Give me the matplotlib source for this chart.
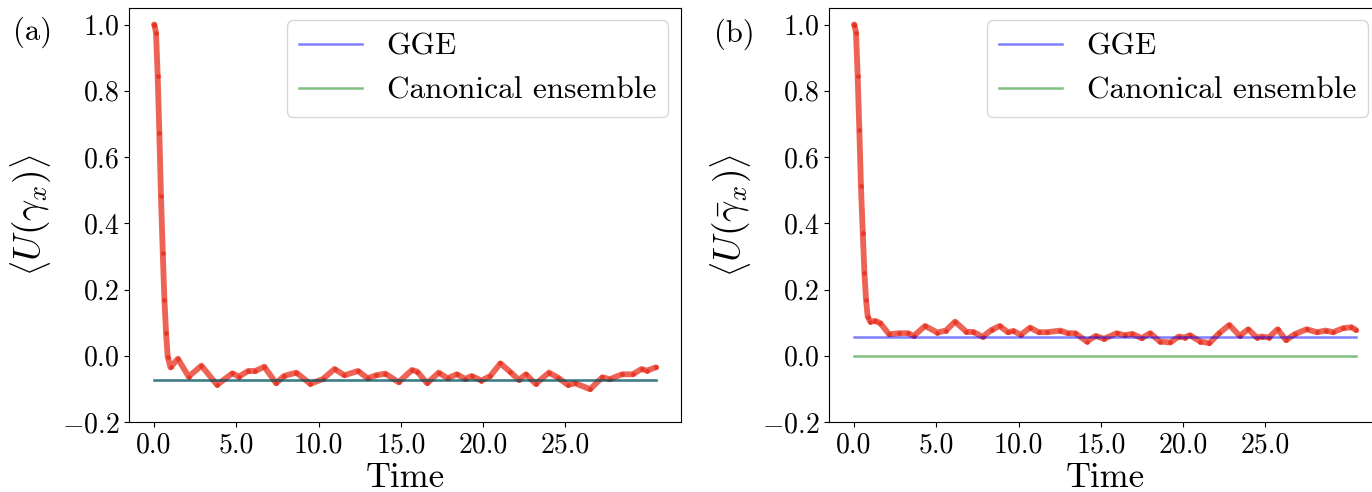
import matplotlib.pyplot as plt
import numpy as np

plt.rcParams['font.family'] = 'cmr10'
plt.rcParams['mathtext.fontset'] = 'cm'
plt.rcParams['axes.formatter.use_mathtext'] = True

# panel (a): <U(gamma_x)> vs time
t_a = [0.0, 0.02, 0.12, 0.22, 0.32, 0.42, 0.53, 0.63, 0.73, 0.83, 1.0, 1.45, 2.1, 2.88,
       3.83, 4.76, 5.15, 5.73, 6.16, 6.7, 7.42, 7.9, 8.65, 9.5, 10.27, 10.97, 11.57,
       12.4, 12.98, 13.5, 14.06, 14.86, 15.68, 16.0, 16.6, 17.3, 17.85, 18.4, 18.93,
       19.3, 19.9, 20.44, 21.05, 21.63, 22.17, 22.6, 23.2, 24.0, 24.55, 25.15, 25.6,
       26.5, 27.25, 27.7, 28.44, 29.1, 29.63, 29.96, 30.5]
u_a = [1.0, 1.0, 0.975, 0.844, 0.674, 0.481, 0.31, 0.168, 0.069, -0.003, -0.035, -0.009,
       -0.063, -0.03, -0.088, -0.053, -0.063, -0.046, -0.046, -0.033, -0.083, -0.061,
       -0.051, -0.085, -0.07, -0.04, -0.059, -0.046, -0.068, -0.059, -0.054, -0.08,
       -0.043, -0.048, -0.083, -0.051, -0.068, -0.056, -0.07, -0.061, -0.075, -0.061,
       -0.023, -0.048, -0.073, -0.056, -0.085, -0.051, -0.066, -0.088, -0.083, -0.101,
       -0.065, -0.071, -0.056, -0.056, -0.04, -0.045, -0.035]
gge_a = -0.073
can_a = -0.073

# panel (b): <U(gamma_bar_x)> vs time
t_b = [0.0, 0.02, 0.12, 0.22, 0.32, 0.42, 0.53, 0.63, 0.73, 0.83, 0.99, 1.3, 1.6, 2.13,
       2.76, 3.28, 3.63, 4.32, 5.06, 5.58, 6.14, 6.83, 7.25, 7.81, 8.36, 8.86, 9.34,
       9.69, 10.13, 10.7, 11.22, 11.74, 12.53, 12.99, 13.45, 14.14, 14.7, 15.19, 15.96,
       16.44, 16.92, 17.48, 18.0, 18.59, 19.22, 19.74, 20.1, 20.41, 21.04, 21.6, 22.19,
       22.81, 23.44, 23.96, 24.48, 24.8, 25.21, 25.74, 26.26, 26.78, 27.51, 28.14,
       28.66, 29.12, 29.71, 30.23, 30.5]
u_b = [1.0, 1.0, 0.975, 0.844, 0.683, 0.511, 0.371, 0.25, 0.168, 0.118, 0.103, 0.105,
       0.098, 0.065, 0.068, 0.068, 0.06, 0.09, 0.07, 0.076, 0.103, 0.072, 0.072, 0.057,
       0.078, 0.09, 0.071, 0.075, 0.063, 0.085, 0.071, 0.071, 0.076, 0.068, 0.068,
       0.043, 0.06, 0.051, 0.068, 0.062, 0.066, 0.053, 0.068, 0.043, 0.04, 0.058,
       0.055, 0.062, 0.043, 0.038, 0.068, 0.093, 0.06, 0.08, 0.055, 0.058, 0.055,
       0.08, 0.047, 0.065, 0.08, 0.071, 0.076, 0.071, 0.083, 0.086, 0.078]
gge_b = 0.058
can_b = 0.0

xticks = [0, 5, 10, 15, 20, 25]
xticklabels = ['0.0', '5.0', '10.0', '15.0', '20.0', '25.0']
ylabels = [r'$\left\langle U(\gamma_x)\right\rangle$',
           r'$\left\langle U(\bar{\gamma}_x)\right\rangle$']

fig = plt.figure(figsize=(13.72, 4.92), dpi=100)
ax_a = fig.add_axes([0.094, 0.1423, 0.4023, 0.8415])
ax_b = fig.add_axes([0.6042, 0.1423, 0.4023, 0.8415])

panels = [(ax_a, t_a, u_a, gge_a, can_a, ylabels[0]),
          (ax_b, t_b, u_b, gge_b, can_b, ylabels[1])]

for ax, t, u, gge, can, ylab in panels:
    ax.plot(t, u, '-o', color='#e8301e', lw=4.2, ms=2.5, alpha=0.75,
            solid_joinstyle='round', solid_capstyle='round')
    ax.plot([t[0], t[-1]], [gge, gge], color='blue', alpha=0.5, lw=1.8, label='GGE')
    ax.plot([t[0], t[-1]], [can, can], color='green', alpha=0.5, lw=1.8,
            label='Canonical ensemble')
    ax.set_ylim(-0.2, 1.05)
    ax.set_xticks(xticks)
    ax.set_xticklabels(xticklabels)
    ax.tick_params(labelsize=20)
    ax.set_xlabel('Time', fontsize=25, labelpad=3)
    ax.set_ylabel(ylab, fontsize=27, labelpad=6)
    ax.legend(loc='upper right', fontsize=22.5, borderaxespad=0.4)

fig.text(0.024, 0.935, '(a)', fontsize=22, ha='center', va='center')
fig.text(0.535, 0.93, '(b)', fontsize=22, ha='center', va='center')

fig.savefig('out.png', dpi=100)
